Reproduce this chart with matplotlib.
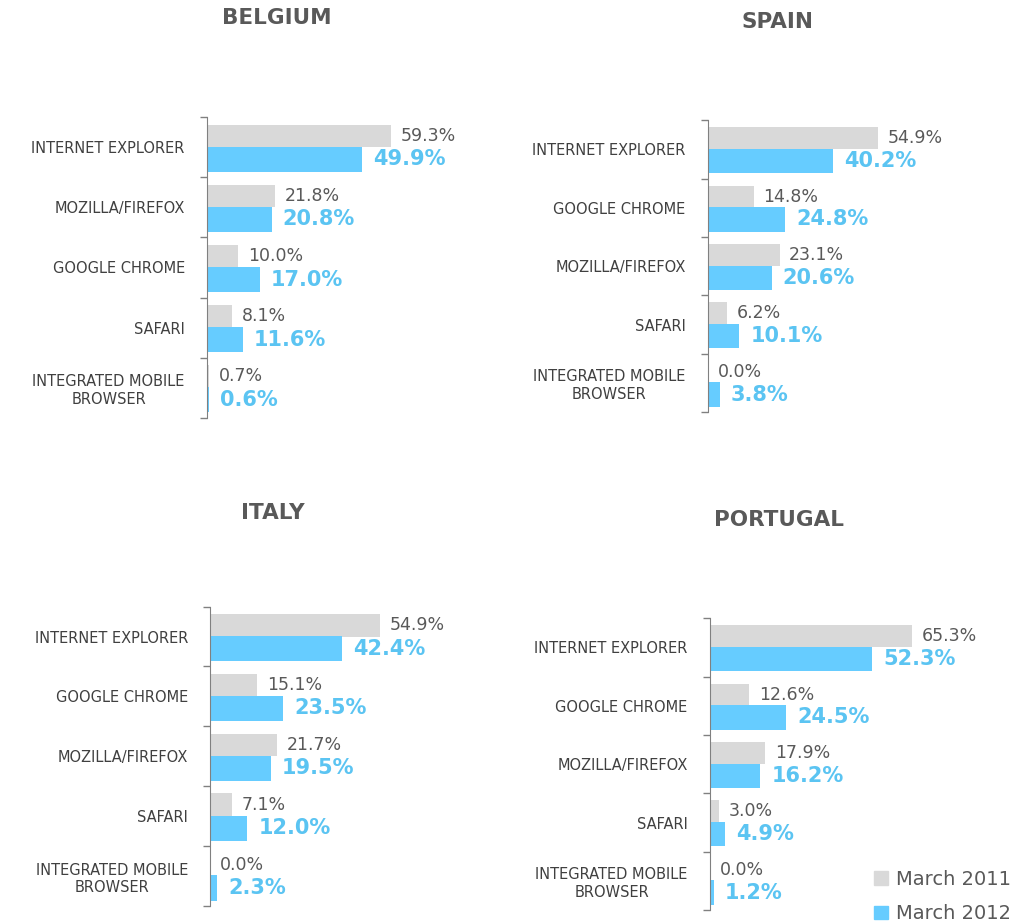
import matplotlib.pyplot as plt
from matplotlib.patches import Patch

# browser share per country, top to bottom as drawn
belgium_cats = ["INTERNET EXPLORER", "MOZILLA/FIREFOX", "GOOGLE CHROME", "SAFARI",
                "INTEGRATED MOBILE\nBROWSER"]
belgium_2011 = [59.3, 21.8, 10.0, 8.1, 0.7]
belgium_2012 = [49.9, 20.8, 17.0, 11.6, 0.6]

spain_cats = ["INTERNET EXPLORER", "GOOGLE CHROME", "MOZILLA/FIREFOX", "SAFARI",
              "INTEGRATED MOBILE\nBROWSER"]
spain_2011 = [54.9, 14.8, 23.1, 6.2, 0.0]
spain_2012 = [40.2, 24.8, 20.6, 10.1, 3.8]

italy_cats = ["INTERNET EXPLORER", "GOOGLE CHROME", "MOZILLA/FIREFOX", "SAFARI",
              "INTEGRATED MOBILE\nBROWSER"]
italy_2011 = [54.9, 15.1, 21.7, 7.1, 0.0]
italy_2012 = [42.4, 23.5, 19.5, 12.0, 2.3]

portugal_cats = ["INTERNET EXPLORER", "GOOGLE CHROME", "MOZILLA/FIREFOX", "SAFARI",
                 "INTEGRATED MOBILE\nBROWSER"]
portugal_2011 = [65.3, 12.6, 17.9, 3.0, 0.0]
portugal_2012 = [52.3, 24.5, 16.2, 4.9, 1.2]

series_labels = ["March 2011", "March 2012"]

GRAY = "#D9D9D9"
BLUE = "#66CCFF"
TEXT = "#595959"

plt.rcParams["font.family"] = ["DejaVu Sans"]

fig = plt.figure(figsize=(10.2, 9.24), dpi=100)

panels = [
    ("BELGIUM", belgium_cats, belgium_2011, belgium_2012, [0.203, 0.548, 0.304, 0.325], (277, 18)),
    ("SPAIN", spain_cats, spain_2011, spain_2012, [0.694, 0.554, 0.304, 0.316], (778, 22)),
    ("ITALY", italy_cats, italy_2011, italy_2012, [0.206, 0.0195, 0.304, 0.324], (273, 513)),
    ("PORTUGAL", portugal_cats, portugal_2011, portugal_2012, [0.696, 0.015, 0.304, 0.316], (779, 520)),
]

for title, cats, v11, v12, rect, tpos in panels:
    ax = fig.add_axes(rect)
    y = list(range(len(cats)))
    ax.barh([i - 0.19 for i in y], v11, height=0.38, color=GRAY)
    ax.barh([i + 0.2 for i in y], v12, height=0.42, color=BLUE)
    for i in y:
        ax.annotate(f"{v11[i]:.1f}%", (v11[i], i - 0.19), xytext=(7, 0),
                    textcoords="offset points", va="center", ha="left",
                    fontsize=12.5, color=TEXT)
        ax.annotate(f"{v12[i]:.1f}%", (v12[i], i + 0.2), xytext=(8, 0),
                    textcoords="offset points", va="center", ha="left",
                    fontsize=15, color="#5BC4F2", fontweight="bold")
    ax.set_xlim(0, 100)
    ax.set_ylim(len(cats) - 0.5, -0.5)
    ax.set_yticks(y)
    ax.set_yticklabels(cats, fontsize=10.5, color="#404040", multialignment="center")
    ax.set_yticks([i - 0.5 for i in range(len(cats) + 1)], minor=True)
    ax.tick_params(axis="y", which="major", length=0, pad=16)
    ax.tick_params(axis="y", which="minor", length=5, color="#808080", width=1)
    ax.set_xticks([])
    for s in ["top", "right", "bottom"]:
        ax.spines[s].set_visible(False)
    ax.spines["left"].set_color("#808080")
    fig.text(tpos[0] / 1020, 1 - tpos[1] / 924, title, ha="center", va="center",
             fontsize=15.5, fontweight="bold", color=TEXT)

handles = [Patch(color=GRAY), Patch(color=BLUE)]
fig.legend(handles, series_labels, loc="lower right", bbox_to_anchor=(1.008, -0.018),
           frameon=False, fontsize=14, labelcolor=TEXT, handlelength=0.7,
           handleheight=0.7, handletextpad=0.4, labelspacing=0.8)

plt.savefig("out.png", dpi=100)
